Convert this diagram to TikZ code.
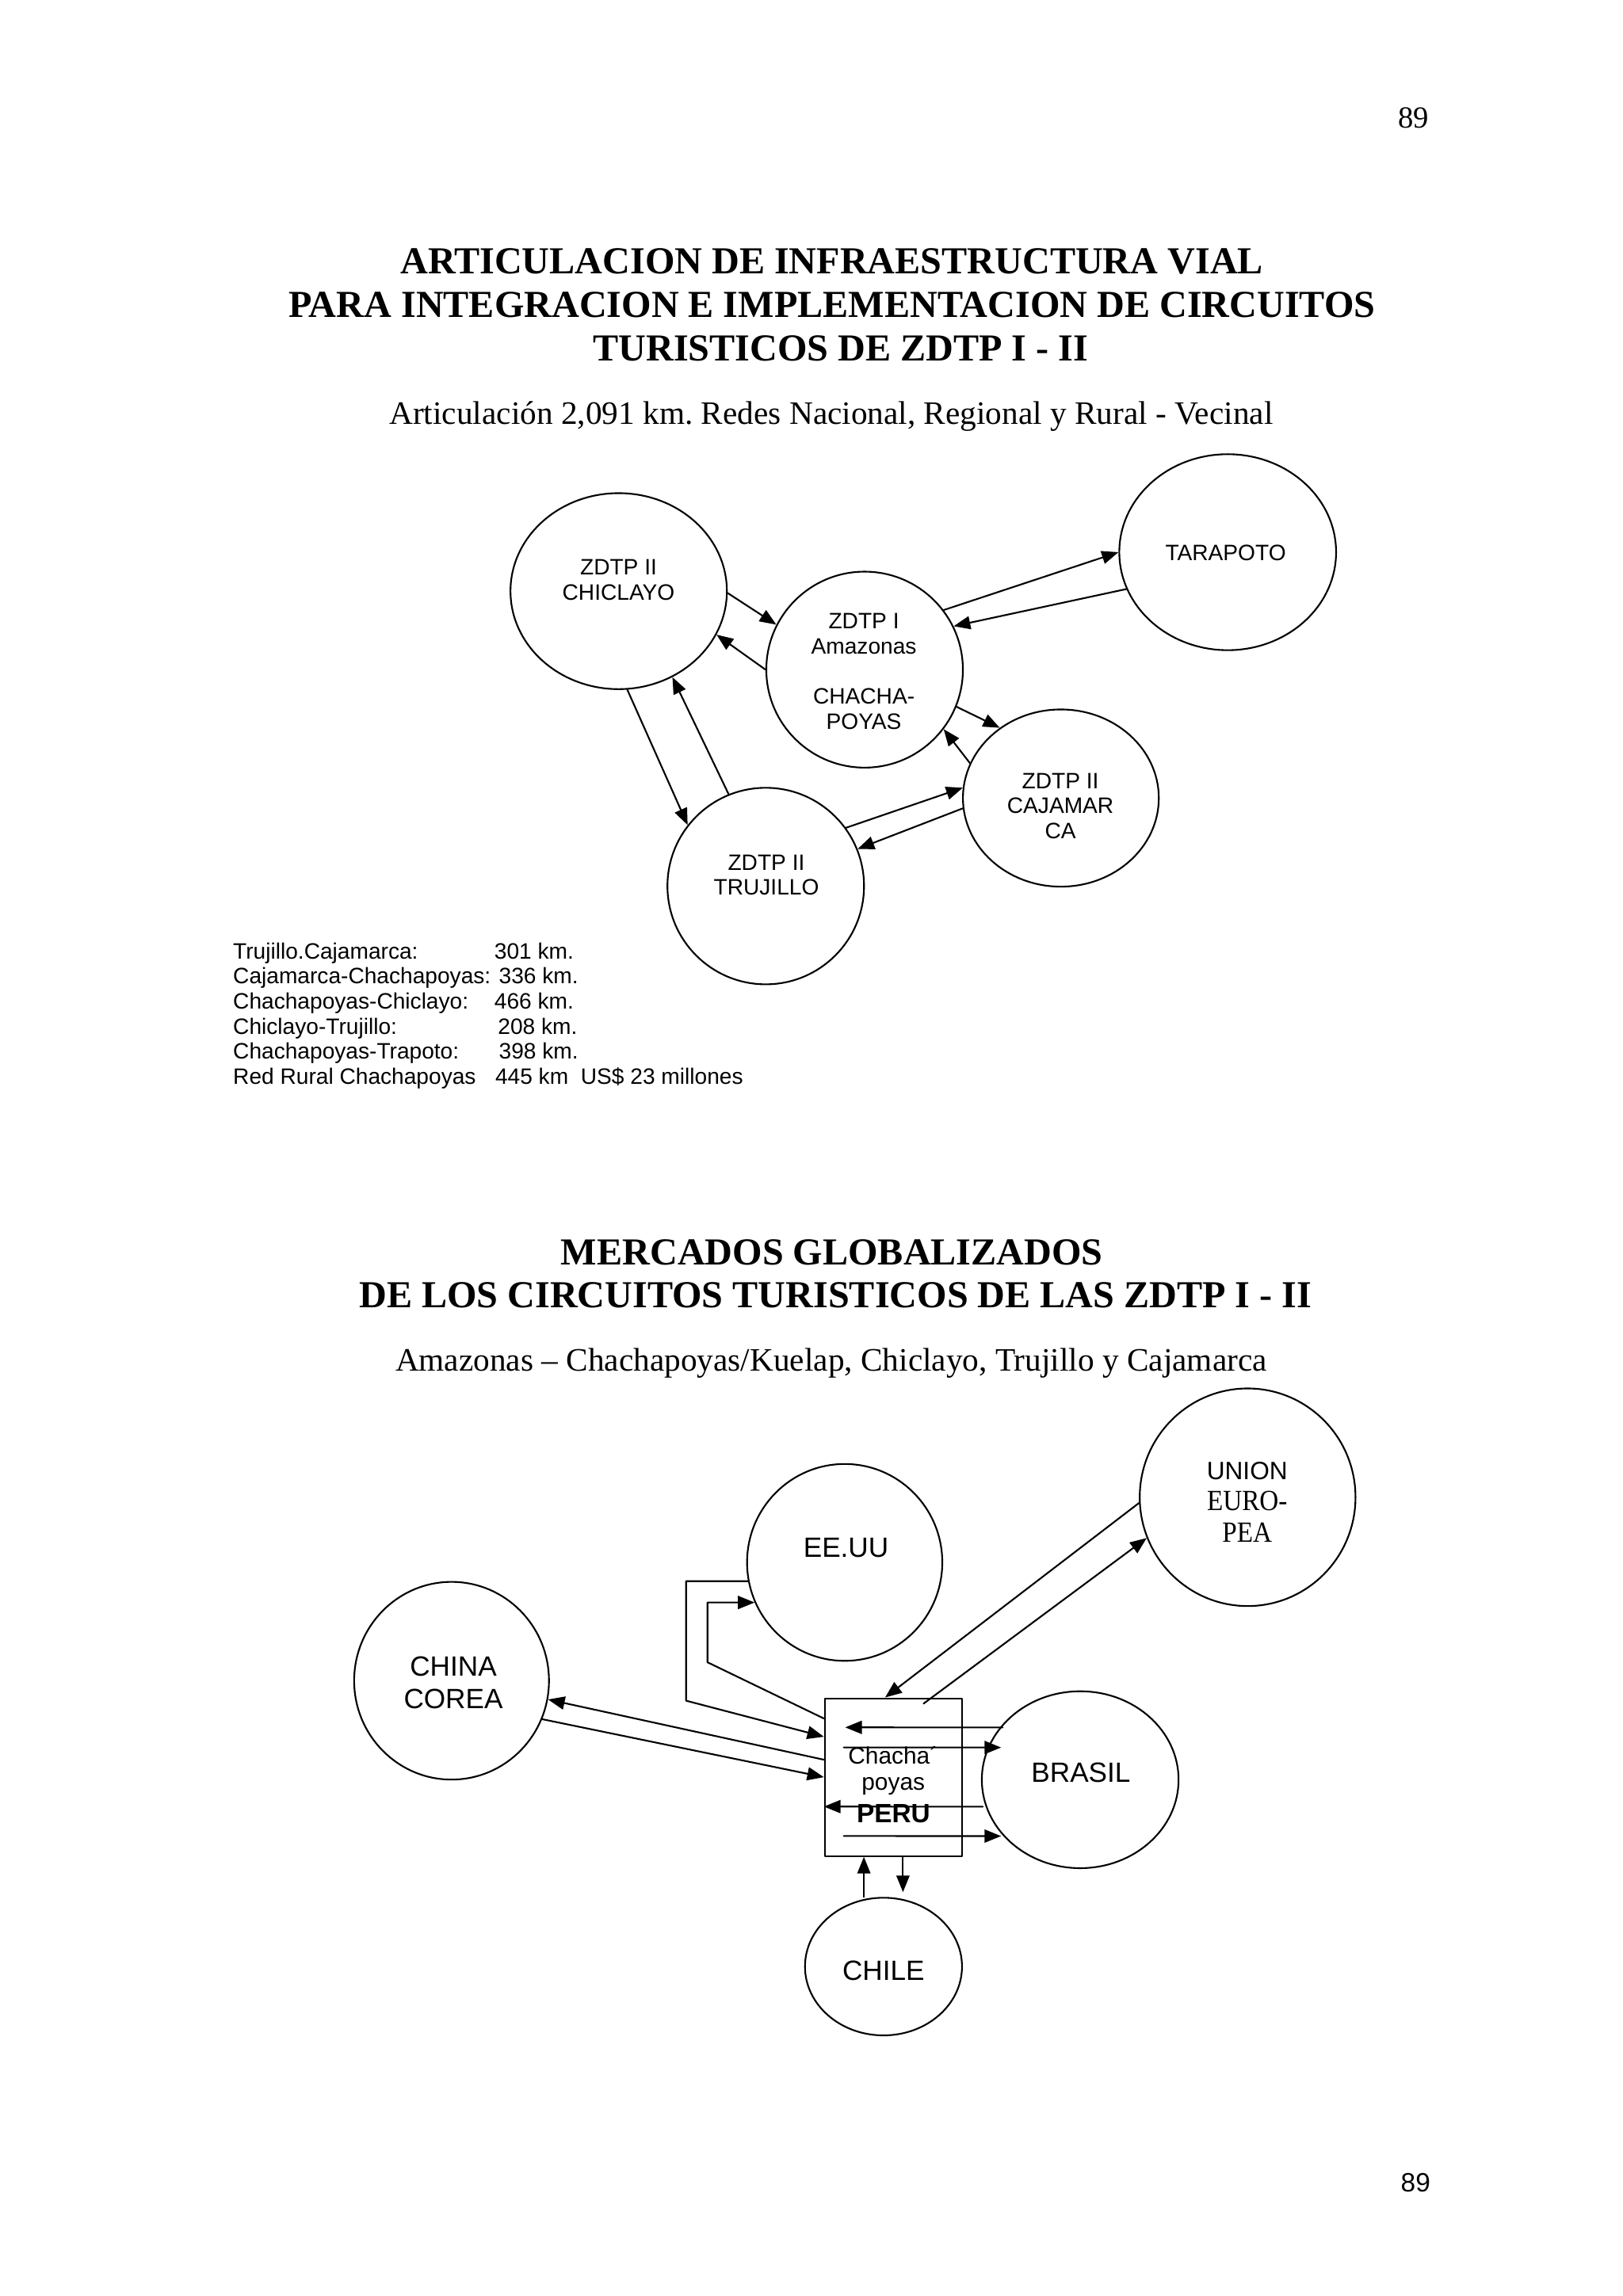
\documentclass[tikz,border=0pt]{standalone}
\usepackage{fontspec}
\setmainfont{Liberation Serif}
\setsansfont{Liberation Sans}
\usepackage{graphicx}
\usetikzlibrary{arrows.meta, shapes.geometric, calc}
\frenchspacing

\tikzset{
	zona/.style={draw, ellipse, line width=0.6pt, inner sep=0pt},
	flecha/.style={-{Triangle[length=2.1mm, width=1.65mm]}, line width=0.6pt},
	rot/.style={font=\sffamily\fontsize{8}{9}\selectfont, align=center, inner sep=0pt},
	rotb/.style={font=\sffamily\fontsize{10}{11.6}\selectfont, align=center, inner sep=0pt},
	titulo/.style={font=\bfseries\fontsize{13.7}{15.6}\selectfont, anchor=base, inner sep=0pt},
	subtit/.style={font=\fontsize{11.75}{14}\selectfont, anchor=base, inner sep=0pt},
	leyenda/.style={font=\sffamily\fontsize{8}{9}\selectfont, anchor=base west, inner sep=0pt}
}

\begin{document}
\begin{tikzpicture}[x=0.01848cm, y=-0.01848cm, line cap=round, line join=round]
				\useasboundingbox (0,0) rectangle (1108,1568);
				\node[font=\fontsize{11}{13}\selectfont, anchor=base, inner sep=0pt] (pagA) at (965,87.5) {89};
				% articulacion vial
				\node[titulo] (titA1) at (568,186.7) {ARTICULACION DE INFRAESTRUCTURA VIAL};
				\node[titulo] (titA2) at (568,216.5) {PARA INTEGRACION E IMPLEMENTACION DE CIRCUITOS};
				\node[titulo] (titA3) at (574,246.3) {TURISTICOS DE ZDTP I - II};
				\node[subtit] (subA) at (567.5,290) {Articulación 2,091 km. Redes Nacional, Regional y Rural - Vecinal};
				\node[zona, minimum width=2.73cm, minimum height=2.473cm] (chic) at (422.4,403.7) {};
				\node[zona, minimum width=2.48cm, minimum height=2.473cm] (amaz) at (590.3,457.3) {};
				\node[zona, minimum width=2.735cm, minimum height=2.473cm] (tara) at (838.2,377.1) {};
				\node[zona, minimum width=2.471cm, minimum height=2.236cm] (caja) at (724.3,545) {};
				\node[zona, minimum width=2.48cm, minimum height=2.48cm] (truj) at (522.8,605.1) {};
				\node[rot] (chicT) at (422.3,396.1) {ZDTP II\\CHICLAYO};
				\node[rot] (amazT) at (589.8,458.45) {ZDTP I\\Amazonas\\[9pt]CHACHA-\\POYAS};
				\node[rot] (taraT) at (836.8,377.6) {TARAPOTO};
				\node[rot] (cajaT) at (724,550.4) {ZDTP II\\CAJAMAR\\CA};
				\node[rot] (trujT) at (523.2,597.5) {ZDTP II\\TRUJILLO};
				\draw[flecha] (chic.-1) -- (amaz.153);
				\draw[flecha] (amaz.180) -- (chic.-24);
				\draw[flecha] (amaz.37) -- (tara.180);
				\draw[flecha] (tara.200) -- (amaz.26);
				\draw[flecha] (amaz.-22) -- (caja.131);
				\draw[flecha] (caja.159) -- (amaz.-37);
				\draw[flecha] (truj.36) -- (caja.174);
				\draw[flecha] (caja.186) -- (truj.22);
				\draw[flecha] (chic.-85) -- (truj.142);
				\draw[flecha] (truj.112) -- (chic.-58);
				\foreach \i/\yy/\xx/\ta/\tb in {
					1/655.1/337.2/Trujillo.Cajamarca:/301 km.,
					2/671.9/340.3/Cajamarca-Chachapoyas:/336 km.,
					3/689.0/337.2/Chachapoyas-Chiclayo:/466 km.,
					4/706.5/339.6/Chiclayo-Trujillo:/208 km.,
					5/723.3/340.3/Chachapoyas-Trapoto:/398 km.,
					6/740.4/337.8/Red Rural Chachapoyas/{445 km\ \ US\$ 23 millones}}{
					\node[leyenda] (legA\i) at (158.8,\yy) {\ta};
					\node[leyenda] (legB\i) at (\xx,\yy) {\tb};
				}
				% mercados globalizados
				\node[titulo] (titB1) at (568,863.6) {MERCADOS GLOBALIZADOS};
				\node[titulo] (titB2) at (570.5,892.8) {DE LOS CIRCUITOS TURISTICOS DE LAS ZDTP I - II};
				\node[subtit] (subB) at (567.5,936.5) {Amazonas – Chachapoyas/Kuelap, Chiclayo, Trujillo y Cajamarca};
				\node[zona, minimum width=2.463cm, minimum height=2.484cm] (eeuu) at (576.7,1067) {};
				\node[zona, minimum width=2.722cm, minimum height=2.746cm] (ue) at (851.8,1022.5) {};
				\node[zona, minimum width=2.458cm, minimum height=2.495cm] (china) at (308.3,1147.8) {};
				\node[zona, minimum width=2.482cm, minimum height=2.232cm] (brasil) at (737.5,1215.4) {};
				\node[zona, minimum width=1.981cm, minimum height=1.737cm] (chile) at (603.2,1343) {};
				\node[draw, line width=0.6pt, minimum width=1.735cm, minimum height=1.99cm, inner sep=0pt] (box) at (610.05,1213.65) {};
				\node[rotb] (eeuuT) at (577.6,1057.2) {EE.UU};
				\node[rotb] (chinaT) at (309.5,1149.2) {CHINA\\COREA};
				\node[rotb] (brasilT) at (738,1210.4) {BRASIL};
				\node[rotb] (chileT) at (603.2,1346) {CHILE};
				\node[font=\sffamily\fontsize{9}{11}\selectfont, inner sep=0pt] (ueT1) at (851.5,1004.4) {UNION};
				\node[font=\fontsize{10.5}{11}\selectfont, inner sep=0pt] (ueT2) at (851.5,1025.2) {\scalebox{0.9}[1]{EURO-}};
				\node[font=\fontsize{10.5}{11}\selectfont, inner sep=0pt] (ueT3) at (851.5,1046.8) {\scalebox{0.9}[1]{PEA}};
				\node[font=\sffamily\fontsize{8.5}{9.5}\selectfont, anchor=base, inner sep=0pt] (pcha) at (607,1204.5) {Chacha\rlap{´}};
				\node[font=\sffamily\fontsize{8.5}{9.5}\selectfont, anchor=base, inner sep=0pt] (ppoy) at (609.9,1222.6) {poyas};
				\node[font=\sffamily\bfseries\fontsize{9.5}{11}\selectfont, anchor=base, inner sep=0pt] (pperu) at (610,1244.6) {PERU};
				\draw[flecha] (eeuu.191) -- ++(-42.3,0) -- ++(0,81.6) -- ([yshift=0.51cm]box.west);
				\draw[flecha] ([yshift=0.74cm]box.west) -- ++(-79.5,-38.4) |- (eeuu.204);
				\draw[flecha] (ue.183) -- ([xshift=-0.106cm]box.north);
				\draw[flecha] ([shift={(20.5,4.2)}]box.north) -- (ue.202);
				\draw[flecha] ([yshift=0.22cm]box.west) -- (china.-11);
				\draw[flecha] (china.-23) -- (box.west);
				\draw[flecha] ([shift={(-53,-35.7)}]brasil.center) -- ([shift={(-33,-34)}]box.center);
				\draw[flecha] ([shift={(-34,-20.3)}]box.center) -- ([shift={(-54,-22)}]brasil.center);
				\draw[flecha] ([shift={(-66.5,18.4)}]brasil.center) -- ([shift={(0,20.1)}]box.west);
				\draw[flecha] ([shift={(-34,40.2)}]box.center) -- ([shift={(-54,38.5)}]brasil.center);
				\draw[flecha] ([xshift=-0.374cm]box.south |- chile.north) -- ([xshift=-0.374cm]box.south);
				\draw[flecha] ([xshift=0.119cm]box.south) -- ([xshift=0.119cm,yshift=0.06cm]box.south |- chile.north);
				\node[font=\sffamily\fontsize{9.5}{11}\selectfont, anchor=base, inner sep=0pt] (pagB) at (966.5,1497.1) {89};
			\end{tikzpicture}
\end{document}
